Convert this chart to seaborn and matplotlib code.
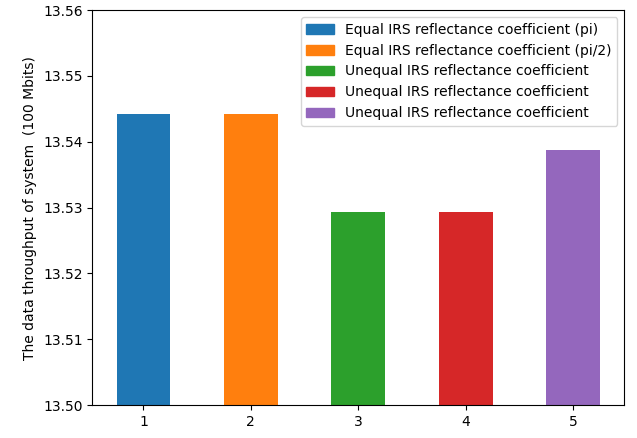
import matplotlib
matplotlib.use("Agg")
import matplotlib.pyplot as plt
import matplotlib.patches as mpatches
import seaborn as sns

# data
positions = [1, 2, 3, 4, 5]
throughput = [13.5442, 13.5442, 13.5294, 13.5294, 13.5388]
labels = [
    "Equal IRS reflectance coefficient (pi)",
    "Equal IRS reflectance coefficient (pi/2)",
    "Unequal IRS reflectance coefficient",
    "Unequal IRS reflectance coefficient",
    "Unequal IRS reflectance coefficient",
]
colors = ["#1f77b4", "#ff7f0e", "#2ca02c", "#d62728", "#9467bd"]

fig, ax = plt.subplots(figsize=(6.37, 4.38), dpi=100)
sns.barplot(x=positions, y=throughput, hue=positions, palette=colors,
            width=0.5, dodge=False, legend=False, saturation=1,
            native_scale=True, ax=ax)

# matplotlib default margins around the bars
ax.set_xlim(0.525, 5.475)
ax.set_xticks(positions)
ax.set_ylim(13.50, 13.56)
ax.set_ylabel("The data throughput of system  (100 Mbits)")
ax.set_xlabel("")

handles = [mpatches.Patch(color=c, label=l) for c, l in zip(colors, labels)]
ax.legend(handles=handles, loc="upper right")

plt.subplots_adjust(left=0.145, right=0.98, top=0.977, bottom=0.075)
plt.savefig("out.png", dpi=100)
